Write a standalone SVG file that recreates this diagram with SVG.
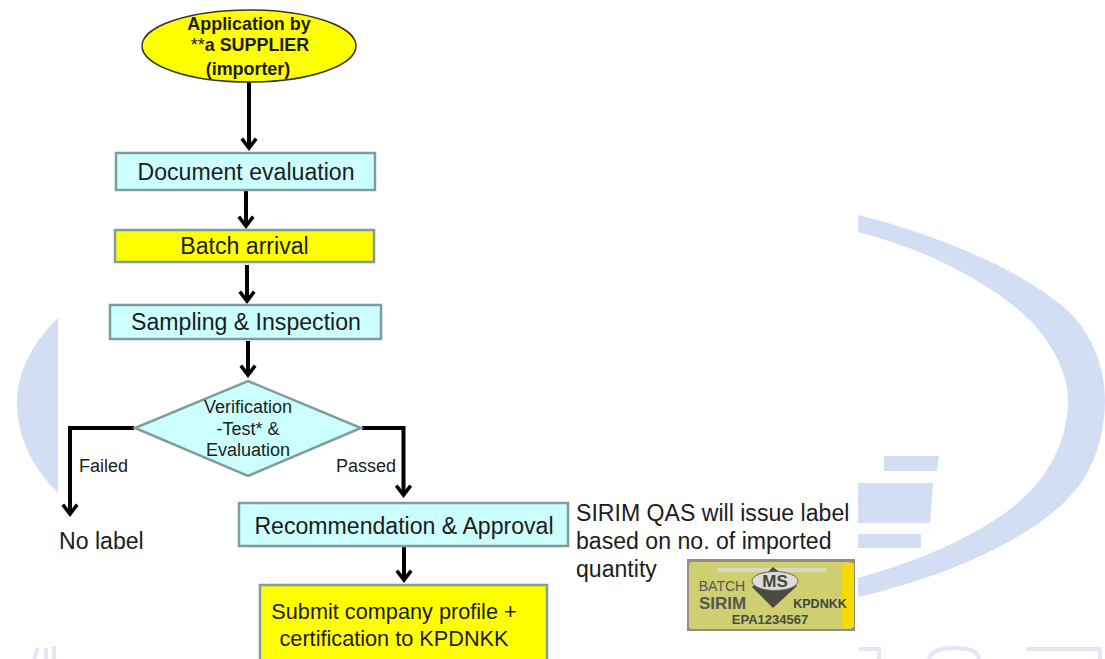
<svg xmlns="http://www.w3.org/2000/svg" width="1105" height="659" viewBox="0 0 1105 659">
<defs>
<marker id="ah" viewBox="0 0 20 20" refX="13.4" refY="10" markerWidth="20" markerHeight="20" markerUnits="userSpaceOnUse" orient="auto"><path d="M4 2.800L13.500 10L4 17.200" fill="none" stroke="#000" stroke-width="3.5"/></marker>
</defs>
<style>
text{font-family:"Liberation Sans",Arial,sans-serif;fill:#1c1c1c;text-anchor:middle}
.b{stroke:#7f9c9e;stroke-width:2.5}
.c{fill:#ccffff}.y{fill:#ffff00}
.l{fill:none;stroke:#000;stroke-width:4}
.w{fill:#d3ddf3}
.f{fill:none;stroke:#e3e6f5;stroke-width:4}
.m{font-size:23.1px}
.s{font-size:18px}
.n1t{font-size:17.9px;font-weight:bold}
.left{text-anchor:start}
</style>
<rect width="1105" height="659" fill="#fff"/>
<g id="watermark">
<path class="w" d="M858 215C940 235 1025 272 1067 310C1092 333 1105 368 1105 400C1105 430 1097 458 1083 480C1050 530 960 573 858 597L858 578C930 558 1005 525 1040 480C1058 456 1068 430 1068 400C1068 372 1052 345 1033 323C990 280 920 248 858 232Z"/>
<path class="w" d="M58 318C30 345 17 375 17 402C17 440 35 470 58 493Z"/>
<path class="w" d="M884 456H939L937 471H884ZM858 483H933L930 523H858ZM858 534H921V548H858Z"/>
<path class="f" d="M859 649H879V659M929 659C932 650 942 648 955 648C970 648 978 652 979 659M1026 649H1100V659M34 659L38 648M46 659V648M54 659V646"/>
</g>
<g id="connectors">
<path class="l" marker-end="url(#ah)" d="M249 82V148"/>
<path class="l" marker-end="url(#ah)" d="M246 191V226"/>
<path class="l" marker-end="url(#ah)" d="M247 265V301"/>
<path class="l" marker-end="url(#ah)" d="M248 341V375"/>
<path class="l" marker-end="url(#ah)" d="M134 428H70V514"/>
<path class="l" marker-end="url(#ah)" d="M362 428H403.500V495"/>
<path class="l" marker-end="url(#ah)" d="M404 546V580"/>
</g>
<g id="n1"><ellipse cx="249" cy="46" rx="107" ry="36" fill="#ffff00" stroke="#333" stroke-width="1.500"/><text class="n1t" x="249" y="30">Application by</text><text class="n1t" x="250" y="51"><tspan style="font-weight:normal">**</tspan>a SUPPLIER</text><text class="n1t" x="248" y="75">(importer)</text></g>
<g id="n2"><rect class="b c" x="116" y="153" width="259" height="37"/><text class="m" x="246" y="180">Document evaluation</text></g>
<g id="n3"><rect class="b y" x="115" y="230" width="259" height="32"/><text class="m" x="244.500" y="254">Batch arrival</text></g>
<g id="n4"><rect class="b c" x="110" y="305" width="271" height="34"/><text class="m" x="246" y="330">Sampling &amp; Inspection</text></g>
<g id="n5"><path class="b c" d="M248 381L361 428L248 476L135 428Z"/><text class="s" x="248" y="413">Verification</text><text class="s" x="248" y="435">-Test* &amp;</text><text class="s" x="248" y="456">Evaluation</text></g>
<g id="n6"><rect class="b c" x="239" y="503" width="329" height="43"/><text class="m" x="404" y="534">Recommendation &amp; Approval</text></g>
<g id="n7"><path class="b y" d="M260 659V585H547V659"/><text x="394" y="619" style="font-size:21.7px">Submit company profile +</text><text x="394" y="646" style="font-size:21.7px">certification to KPDNKK</text></g>
<g id="labels">
<text class="s left" x="79" y="472">Failed</text>
<text class="s left" x="336" y="472">Passed</text>
<text class="m left" x="59" y="549">No label</text>
<text class="m left" x="576" y="521">SIRIM QAS will issue label</text>
<text class="m left" x="576" y="549">based on no. of imported</text>
<text class="m left" x="576" y="577">quantity</text>
</g>
<g id="badge">
<rect x="687" y="559" width="168" height="72" fill="#8f8f85"/>
<rect x="689" y="562" width="164" height="67" rx="3" fill="#cfcf72"/>
<rect x="842" y="563" width="12" height="65" rx="2" fill="#f5dc00"/>
<path d="M717 568H826V572H717Z" fill="#d8d8c8"/>
<path d="M773 567L797 586L773 608L752 587Z" fill="#4a4a40"/>
<ellipse cx="775" cy="581" rx="23" ry="9.500" fill="#dcdcd8" stroke="#666"/>
<text x="775" y="587" font-size="17" font-weight="bold" style="fill:#444">MS</text>
<text x="722" y="591" font-size="14" style="fill:#555">BATCH</text>
<text x="722.500" y="609" font-size="17" font-weight="bold" style="fill:#555">SIRIM</text>
<text x="820" y="608" font-size="12.500" font-weight="bold" style="fill:#444">KPDNKK</text>
<text x="770" y="624" font-size="13" font-weight="bold" style="fill:#4a4a40">EPA1234567</text>
</g>
</svg>
